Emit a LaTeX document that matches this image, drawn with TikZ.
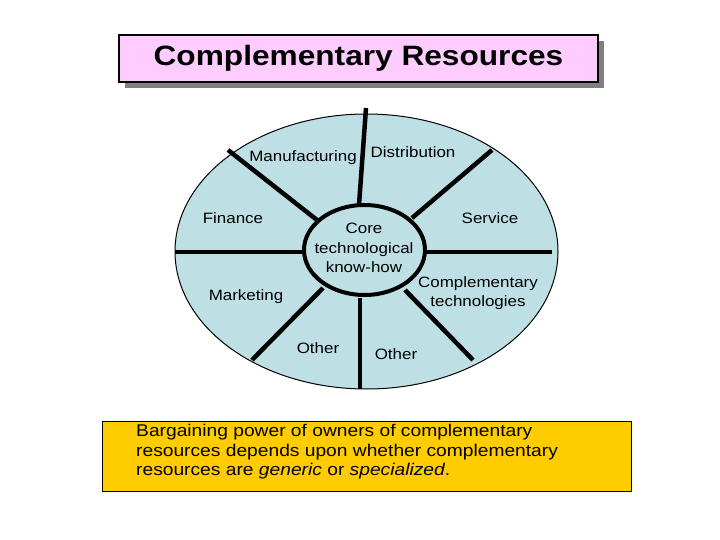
\documentclass[tikz,border=0pt]{standalone}
\usepackage{fontspec}
\usetikzlibrary{shapes.geometric}
\setmainfont{Liberation Sans}[FakeStretch=1.13]
\begin{document}
\begin{tikzpicture}[x=1pt,y=-1pt,
  spoke/.style={line width=4.5pt},
  lbl/.style={font=\fontsize{15}{19.5}\selectfont, align=center, inner sep=0pt},
]
\definecolor{pinkfill}{RGB}{255,204,255}
\definecolor{bluefill}{RGB}{190,223,227}
\definecolor{goldfill}{RGB}{255,204,0}
\definecolor{shadowgray}{RGB}{128,128,128}
\useasboundingbox (0,0) rectangle (720,540);
% title
\fill[shadowgray] (125,41) rectangle (604,88);
\node[draw=black, line width=1.8pt, fill=pinkfill, minimum width=479pt, minimum height=47pt, inner sep=0pt,
  font=\fontsize{28}{32}\bfseries\selectfont] (title) at (358.5,58.5) {Complementary Resources};
% ellipse
\node[draw=black, line width=1pt, fill=bluefill, ellipse, minimum width=383pt, minimum height=275pt, inner sep=0pt] (outer) at (366.5,251.5) {};
% spokes
\coordinate (t1) at (366,108); \coordinate (t2) at (359,205);
\coordinate (ul1) at (228,150); \coordinate (ul2) at (317,220);
\coordinate (ur1) at (492,150); \coordinate (ur2) at (412,218);
\coordinate (l1) at (175,252); \coordinate (l2) at (305,252);
\coordinate (r1) at (424,252); \coordinate (r2) at (552,252);
\coordinate (ll1) at (323,288); \coordinate (ll2) at (252,360);
\coordinate (b1) at (360,298); \coordinate (b2) at (360,389);
\coordinate (lr1) at (405,290); \coordinate (lr2) at (473,360);
\draw[spoke] (t1) -- (t2);
\draw[spoke] (ul1) -- (ul2);
\draw[spoke] (ur1) -- (ur2);
\draw[spoke] (l1) -- (l2);
\draw[spoke] (r1) -- (r2);
\draw[spoke] (ll1) -- (ll2);
\draw[spoke] (b1) -- (b2);
\draw[spoke] (lr1) -- (lr2);
% core
\node[draw=black, line width=4pt, fill=bluefill, ellipse, minimum width=121pt, minimum height=90pt, inner sep=0pt] (core) at (364.5,250) {};
\node[lbl] (coretext) at (364,248) {Core\\technological\\know-how};
% labels
\node[lbl] (manu) at (303,158) {Manufacturing};
\node[lbl] (dist) at (413,152) {Distribution};
\node[lbl] (fin) at (233,218) {Finance};
\node[lbl] (serv) at (490,218) {Service};
\node[lbl] (comp) at (478,293) {Complementary\\technologies};
\node[lbl] (mark) at (246,297) {Marketing};
\node[lbl] (oth1) at (318,348) {Other};
\node[lbl] (oth2) at (396,354) {Other};
% bottom box
\draw[line width=1pt, fill=goldfill] (102,421) rectangle (631,491);
\node[anchor=north west, align=left, inner sep=0pt, font=\fontsize{17}{19.5}\selectfont] (note) at (136,424)
  {Bargaining power of owners of complementary\\resources depends upon whether complementary\\resources are \textit{generic} or \textit{specialized}.};
\end{tikzpicture}
\end{document}
